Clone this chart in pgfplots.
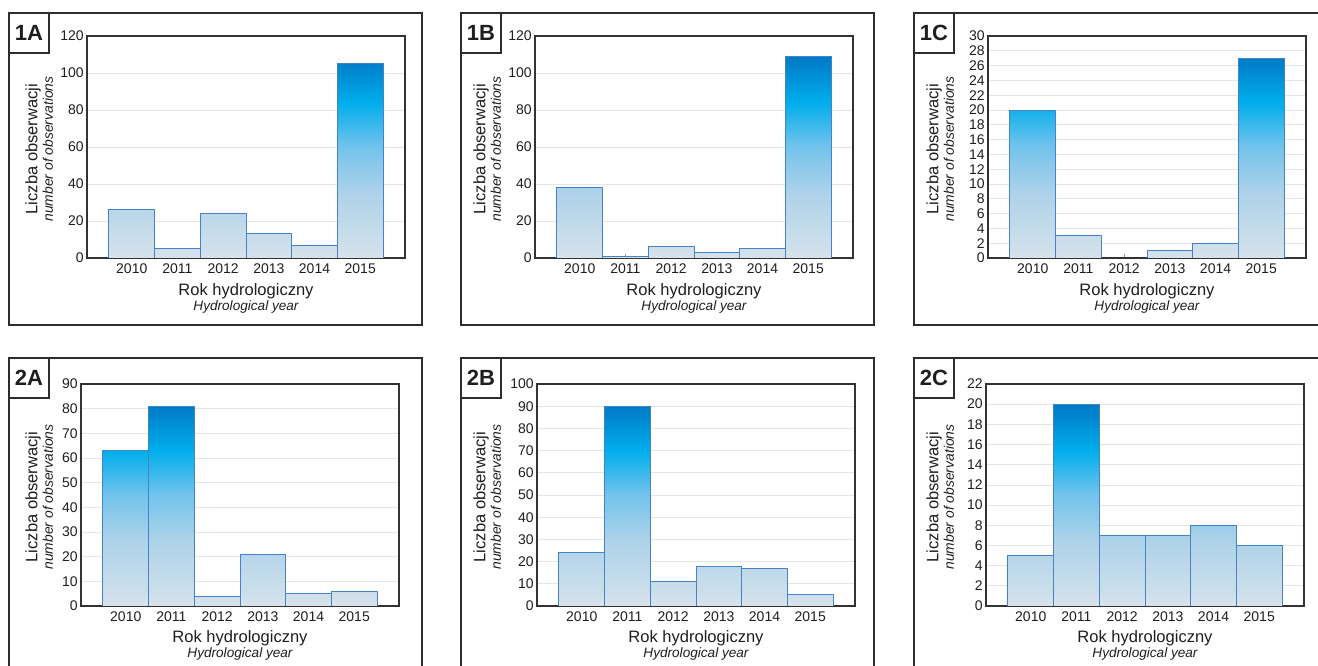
\documentclass[border=0pt]{standalone}
\usepackage{fontspec}
\setmainfont{Liberation Sans}
\usepackage{pgfplots}
\pgfplotsset{compat=1.18}
\definecolor{barEdge}{RGB}{70,130,200}
\definecolor{frameC}{RGB}{45,45,45}
\definecolor{txt}{RGB}{30,30,30}
\pgfplotsset{
  colormap={bars}{rgb255(0cm)=(214,226,235); rgb255(3cm)=(172,210,233); rgb255(5cm)=(115,195,236); rgb255(7cm)=(0,174,236); rgb255(8.6cm)=(0,132,205); rgb255(10cm)=(0,105,185)},
  panel/.style={
    scale only axis, anchor=south west,
    width=238.5pt, height=166.5pt,
    xmin=-0.98, xmax=5.98, ymin=0,
    xtick={0,1,2,3,4,5}, xticklabels={2010,2011,2012,2013,2014,2015},
    ymajorgrids, grid style={draw=black!10, line width=0.6pt},
    axis line style={draw=black!80, line width=1pt},
    xtick pos=bottom, ytick pos=left, tick align=inside,
    major tick length=3pt,
    xtick style={draw=black!40, line width=0.4pt},
    ytick style={draw=none},
    tick label style={font=\fontsize{10.5}{12}\selectfont, text=txt},
    yticklabel style={xshift=1pt},
    xticklabel style={yshift=-1pt},
    /pgf/number format/assume math mode=true,
    colormap name=bars, point meta min=0,
  },
  bar/.style={patch, patch type=rectangle, shader=faceted interp, faceted color=barEdge, point meta=y, line width=0.7pt},
}
\newcommand{\frameBox}[3]{% x, Y(top), label
  \draw[frameC, line width=1.4pt] (#1,#2) rectangle (#1+413,#2-312);
  \draw[frameC, line width=1.4pt] (#1,#2) rectangle (#1+40,#2-40);
  \node[font=\fontsize{16.5}{18}\selectfont\bfseries, text=txt] at (#1+20,#2-20) {#3};
}
\newcommand{\labels}[4]{% axis center x, Y for Rok, x for Liczba, Y center
  \node[font=\fontsize{12.4}{14}\selectfont, text=txt] at (#1,#2) {Rok hydrologiczny};
  \node[font=\fontsize{10.2}{12}\selectfont\itshape, text=txt] at (#1,#2-16) {Hydrological year};
  \node[font=\fontsize{12.4}{14}\selectfont, text=txt, rotate=90] at (#3,#4) {Liczba obserwacji};
  \node[font=\fontsize{10.4}{12}\selectfont\itshape, text=txt, rotate=90] at (#3+15,#4) {number of observations};
}
\begin{document}
\begin{tikzpicture}[x=0.75pt,y=0.75pt]
\useasboundingbox (0,0) rectangle (1318,666);
% frames
\frameBox{9}{653}{1A}
\frameBox{461}{653}{1B}
\frameBox{914}{653}{1C}
\frameBox{9}{308}{2A}
\frameBox{461}{308}{2B}
\frameBox{914}{308}{2C}
% 1A
\begin{axis}[panel, at={(65.25pt,306pt)}, ymax=120, ytick={0,20,...,120}, point meta max=120]
\addplot[bar] coordinates {
(-0.5,0) (0.5,0) (0.5,26) (-0.5,26)
(0.5,0) (1.5,0) (1.5,5) (0.5,5)
(1.5,0) (2.5,0) (2.5,24) (1.5,24)
(2.5,0) (3.5,0) (3.5,13) (2.5,13)
(3.5,0) (4.5,0) (4.5,7) (3.5,7)
(4.5,0) (5.5,0) (5.5,105) (4.5,105)
};
\end{axis}
% 1B
\begin{axis}[panel, at={(401.25pt,306pt)}, ymax=120, ytick={0,20,...,120}, point meta max=120]
\addplot[bar] coordinates {
(-0.5,0) (0.5,0) (0.5,38) (-0.5,38)
(0.5,0) (1.5,0) (1.5,1) (0.5,1)
(1.5,0) (2.5,0) (2.5,6) (1.5,6)
(2.5,0) (3.5,0) (3.5,3) (2.5,3)
(3.5,0) (4.5,0) (4.5,5) (3.5,5)
(4.5,0) (5.5,0) (5.5,109) (4.5,109)
};
\end{axis}
% 1C
\begin{axis}[panel, at={(741pt,306pt)}, ymax=30, ytick={0,2,...,30}, point meta max=30]
\addplot[bar] coordinates {
(-0.5,0) (0.5,0) (0.5,20) (-0.5,20)
(0.5,0) (1.5,0) (1.5,3) (0.5,3)
(1.5,0) (2.5,0) (2.5,0) (1.5,0)
(2.5,0) (3.5,0) (3.5,1) (2.5,1)
(3.5,0) (4.5,0) (4.5,2) (3.5,2)
(4.5,0) (5.5,0) (5.5,27) (4.5,27)
};
\end{axis}
% 2A
\begin{axis}[panel, at={(60.75pt,45pt)}, ymax=90, ytick={0,10,...,90}, point meta max=90]
\addplot[bar] coordinates {
(-0.5,0) (0.5,0) (0.5,63) (-0.5,63)
(0.5,0) (1.5,0) (1.5,81) (0.5,81)
(1.5,0) (2.5,0) (2.5,4) (1.5,4)
(2.5,0) (3.5,0) (3.5,21) (2.5,21)
(3.5,0) (4.5,0) (4.5,5) (3.5,5)
(4.5,0) (5.5,0) (5.5,6) (4.5,6)
};
\end{axis}
% 2B
\begin{axis}[panel, at={(402.75pt,45pt)}, ymax=100, ytick={0,10,...,100}, point meta max=100]
\addplot[bar] coordinates {
(-0.5,0) (0.5,0) (0.5,24) (-0.5,24)
(0.5,0) (1.5,0) (1.5,90) (0.5,90)
(1.5,0) (2.5,0) (2.5,11) (1.5,11)
(2.5,0) (3.5,0) (3.5,18) (2.5,18)
(3.5,0) (4.5,0) (4.5,17) (3.5,17)
(4.5,0) (5.5,0) (5.5,5) (4.5,5)
};
\end{axis}
% 2C
\begin{axis}[panel, at={(739.5pt,45pt)}, ymax=22, ytick={0,2,...,22}, point meta max=22]
\addplot[bar] coordinates {
(-0.5,0) (0.5,0) (0.5,5) (-0.5,5)
(0.5,0) (1.5,0) (1.5,20) (0.5,20)
(1.5,0) (2.5,0) (2.5,7) (1.5,7)
(2.5,0) (3.5,0) (3.5,7) (2.5,7)
(3.5,0) (4.5,0) (4.5,8) (3.5,8)
(4.5,0) (5.5,0) (5.5,6) (4.5,6)
};
\end{axis}
% texts
\labels{246}{375}{33}{517}
\labels{694}{375}{481}{517}
\labels{1147}{375}{934}{517}
\labels{240}{28}{33}{169}
\labels{696}{28}{481}{169}
\labels{1145}{28}{934}{169}
\end{tikzpicture}
\end{document}
